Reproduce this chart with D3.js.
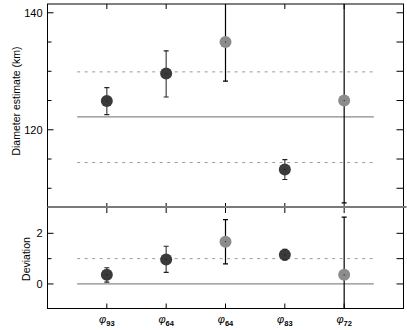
<!DOCTYPE html>
<html>
<head>
<meta charset="utf-8">
<script src="https://cdn.jsdelivr.net/npm/d3@7"></script>
<style>
  body { margin: 0; background: #fff; }
  text { font-family: "Liberation Sans", Arial, sans-serif; }
</style>
</head>
<body>
<script>
// categories (x = 1..5)
var labels = ["93", "64", "64", "83", "72"];
var shade = ["dark", "dark", "gray", "dark", "gray"];

// top panel: diameter estimate (km)
var diam = [124.9, 129.6, 135.0, 113.2, 125.0];
var diamLo = [122.6, 125.6, 128.3, 111.5, 107.5];
var diamHi = [127.2, 133.5, 150, 114.9, 160];
var diamRef = 122.2;
var diamBand = [114.4, 129.9];

// bottom panel: deviation
var dev = [0.36, 0.97, 1.67, 1.15, 0.36];
var devLo = [0.07, 0.46, 0.79, 0.95, -3];
var devHi = [0.64, 1.49, 2.54, 1.37, 2.64];

var w = 407, h = 330;
var svg = d3.select("body").append("svg").attr("width", w).attr("height", h);

var L = 47.5, R = 403.5, T = 4, M = 207, B = 308.5;

var x = d3.scaleLinear().domain([0, 6]).range([L, R]);
var yTop = d3.scaleLinear().domain([106.8, 141.5]).range([M, T]);
var yBot = d3.scaleLinear().domain([-0.97, 3.04]).range([B, M]);

var defs = svg.append("defs");
defs.append("clipPath").attr("id", "clipTop").append("rect")
  .attr("x", L).attr("y", T).attr("width", R - L).attr("height", M - T);
defs.append("clipPath").attr("id", "clipBot").append("rect")
  .attr("x", L).attr("y", M).attr("width", R - L).attr("height", B - M);

function refLine(g, y, dashed) {
  g.append("line")
    .attr("x1", x(0.5)).attr("x2", x(5.5))
    .attr("y1", y).attr("y2", y)
    .attr("stroke", dashed ? "#9a9a9a" : "#8a8a8a")
    .attr("stroke-width", dashed ? 1 : 1.3)
    .attr("stroke-dasharray", dashed ? "3,4.5" : null);
}

// ---- top panel
var gt = svg.append("g").attr("clip-path", "url(#clipTop)");
refLine(gt, yTop(diamRef), false);
diamBand.forEach(function (v) { refLine(gt, yTop(v), true); });

// ---- bottom panel
var gb = svg.append("g").attr("clip-path", "url(#clipBot)");
refLine(gb, yBot(0), false);
refLine(gb, yBot(1), true);

function drawPoints(g, y, vals, lo, hi) {
  vals.forEach(function (v, i) {
    var cx = x(i + 1);
    var col = shade[i] == "dark" ? "#444" : "#000";
    g.append("line").attr("x1", cx).attr("x2", cx)
      .attr("y1", y(lo[i])).attr("y2", y(hi[i]))
      .attr("stroke", col).attr("stroke-width", 1.2);
  });
  g.selectAll("circle.pt").data(vals).enter().append("circle")
    .attr("class", "pt")
    .attr("cx", function (d, i) { return x(i + 1); })
    .attr("cy", function (d) { return y(d); })
    .attr("r", 6)
    .attr("fill", function (d, i) { return shade[i] == "dark" ? "#3a3a3a" : "#8c8c8c"; });
  // caps + centre dot on top
  vals.forEach(function (v, i) {
    var cx = x(i + 1);
    var col = shade[i] == "dark" ? "#222" : "#000";
    [lo[i], hi[i]].forEach(function (e) {
      g.append("line").attr("x1", cx - 2.5).attr("x2", cx + 2.5)
        .attr("y1", y(e)).attr("y2", y(e))
        .attr("stroke", col).attr("stroke-width", 1.2);
    });
    g.append("rect").attr("x", cx - 0.5).attr("y", y(v) - 0.5)
      .attr("width", 1).attr("height", 1).attr("fill", "#111");
  });
}
drawPoints(gt, yTop, diam, diamLo, diamHi);
drawPoints(gb, yBot, dev, devLo, devHi);

// ---- axes
var ax = svg.append("g").attr("stroke", "#000").attr("stroke-width", 1);
ax.append("rect").attr("x", L).attr("y", T).attr("width", R - L).attr("height", B - T)
  .attr("fill", "none").attr("stroke", "#000");
svg.append("line").attr("x1", L).attr("x2", R + 3).attr("y1", M).attr("y2", M)
  .attr("stroke", "#7a7a7a").attr("stroke-width", 2);

var xt = [1, 2, 3, 4, 5];
xt.forEach(function (t) {
  var px = x(t);
  ax.append("line").attr("x1", px).attr("x2", px).attr("y1", T).attr("y2", T + 5);
  ax.append("line").attr("x1", px).attr("x2", px).attr("y1", M - 4).attr("y2", M + 6);
  ax.append("line").attr("x1", px).attr("x2", px).attr("y1", B - 5).attr("y2", B);
});

function yTicks(y, vals, major) {
  vals.forEach(function (v) {
    var py = y(v);
    var isMajor = major.indexOf(v) >= 0;
    ax.append("line").attr("x1", L).attr("x2", L + (isMajor ? 6 : 4)).attr("y1", py).attr("y2", py);
    ax.append("line").attr("x1", R - 7).attr("x2", R).attr("y1", py).attr("y2", py);
    if (isMajor) {
      svg.append("text").attr("x", L - 5).attr("y", py + 4)
        .attr("text-anchor", "end").attr("font-size", 11).text(v);
    }
  });
}
yTicks(yTop, [110, 115, 120, 125, 130, 135, 140], [120, 140]);
yTicks(yBot, [0, 1, 2], [0, 2]);

// x labels phi with subscript
xt.forEach(function (t, i) {
  var tx = svg.append("text").attr("x", x(t)).attr("y", 323)
    .attr("text-anchor", "middle").attr("font-size", 11);
  tx.append("tspan").attr("font-style", "italic").text("\u03c6");
  tx.append("tspan").attr("font-size", 7.5).attr("dy", 3).attr("font-weight", "bold").text(labels[i]);
});

// axis titles
svg.append("text").attr("transform", "translate(20," + 101 + ") rotate(-90)")
  .attr("text-anchor", "middle").attr("font-size", 10.5).text("Diameter estimate (km)");
svg.append("text").attr("transform", "translate(30," + 259 + ") rotate(-90)")
  .attr("text-anchor", "middle").attr("font-size", 10.5).text("Deviation");
</script>
</body>
</html>
